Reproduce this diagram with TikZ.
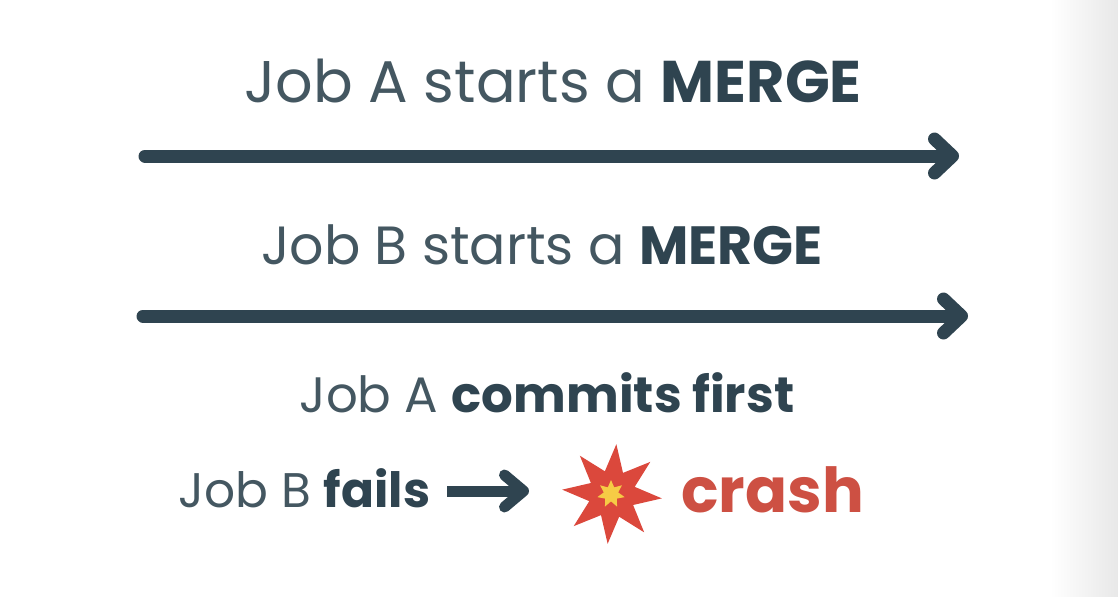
\documentclass[tikz,border=0pt]{standalone}
\usepackage{fontspec}
\setmainfont{Poppins}
\usetikzlibrary{arrows.meta,shapes.geometric}
\definecolor{slate}{HTML}{2F4450}
\definecolor{burst}{HTML}{DB483C}
\definecolor{spark}{HTML}{F6CB45}
\definecolor{crashred}{HTML}{CD5043}
\newcommand{\jobbold}[1]{\textcolor{slate}{\textbf{#1}}}
\tikzset{
	jobtext/.style={text=slate!90!white,inner sep=0pt,anchor=base},
	longarrow/.style={slate,line width=6.5pt,line cap=round,-{Straight Barb[round,length=9pt,width=17pt]}},
	shortarrow/.style={slate,line width=5.5pt,-{Straight Barb[round,length=9.5pt,width=16pt]}}
}
\begin{document}
\begin{tikzpicture}[x=0.5pt,y=-0.5pt]
	\useasboundingbox (0,0) rectangle (1118,596);
	\shade[left color=white,right color=black!9,draw=none] (1050,0) rectangle (1118,596);

	\node[jobtext,font=\fontsize{29.4pt}{33pt}\selectfont] (MergeA) at (553,102) {Job A starts a \jobbold{MERGE}};
	\node[jobtext,font=\fontsize{26.9pt}{30pt}\selectfont] (MergeB) at (542,264) {Job B starts a \jobbold{MERGE}};
	\node[jobtext,font=\fontsize{24.9pt}{28pt}\selectfont] (Commit) at (547,412) {Job A \jobbold{commits first}};
	\node[jobtext,anchor=base west,font=\fontsize{24.3pt}{28pt}\selectfont] (Fails) at (178,507) {Job B \jobbold{fails}};

	\coordinate (A1) at (145,156);
	\coordinate (A2) at (959,156);
	\coordinate (B1) at (143,316);
	\coordinate (B2) at (968,316);
	\coordinate (C1) at (447,491);
	\coordinate (C2) at (529,491);
	\draw[longarrow] (A1) -- (A2);
	\draw[longarrow] (B1) -- (B2);
	\draw[shortarrow] (C1) -- (C2);

	\node[star,star points=8,star point ratio=2.1,shape border rotate=-5,minimum size=50pt,inner sep=0pt,fill=burst] (Burst) at (612,494) {};
	\node[star,star points=7,star point ratio=1.9,minimum size=14pt,inner sep=0pt,fill=spark] (Spark) at (611,494) {};
	\node[anchor=base west,inner sep=0pt,text=crashred,font=\fontsize{31pt}{35pt}\selectfont\bfseries] (Crash) at (681,512) {crash};
\end{tikzpicture}
\end{document}
